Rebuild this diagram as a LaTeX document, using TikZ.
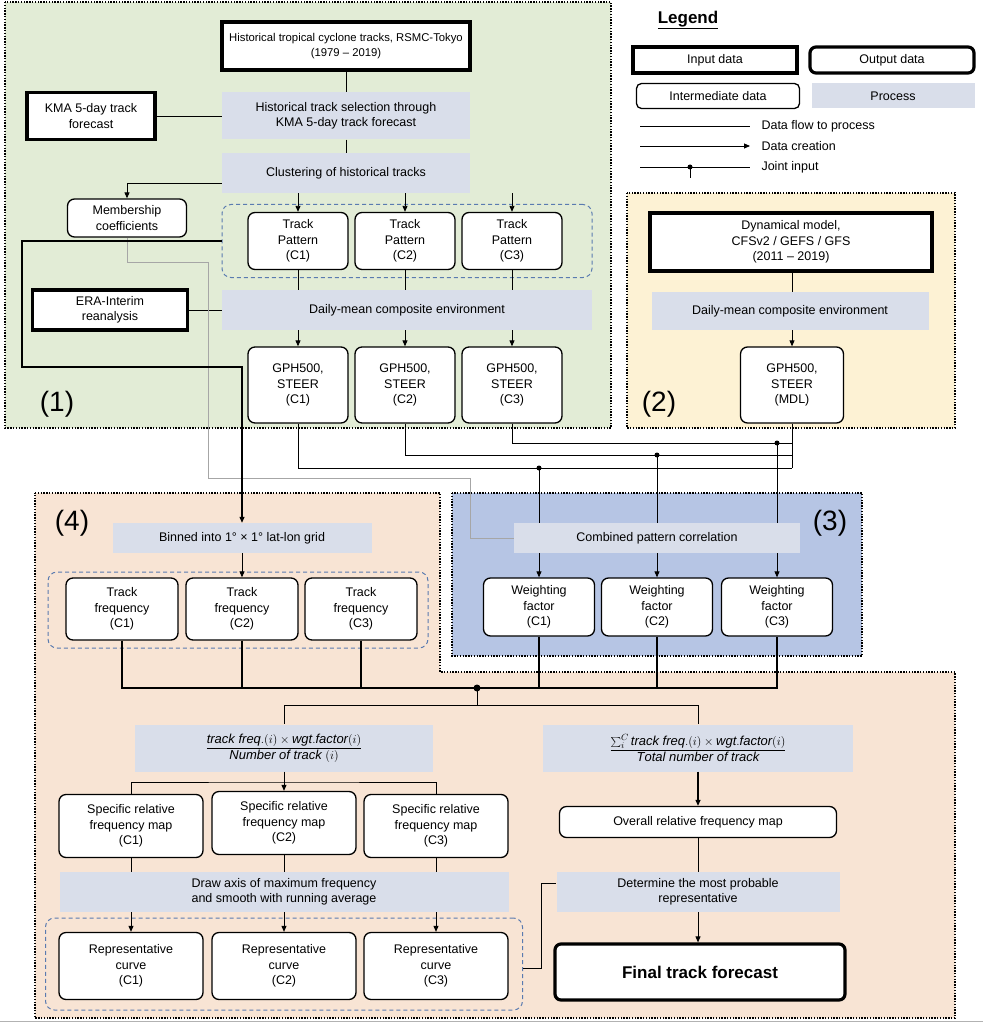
\documentclass[tikz,border=0pt]{standalone}
\usepackage{fontspec}
\setmainfont{Liberation Sans}
\usetikzlibrary{arrows.meta}
\definecolor{gr}{HTML}{E2ECD6}
\definecolor{ye}{HTML}{FDF2D4}
\definecolor{pe}{HTML}{F8E4D4}
\definecolor{bl}{HTML}{B6C5E4}
\definecolor{pr}{HTML}{D9DEEA}
\definecolor{dsh}{HTML}{5A7BB0}
\begin{document}
\begin{tikzpicture}[x=1pt,y=-1pt,
 font=\fontsize{12.5}{15.5}\selectfont,
 inp/.style={draw,line width=3.2pt,align=center,fill=white,inner sep=0pt},
 outp/.style={draw,line width=3.2pt,rounded corners=6pt,align=center,fill=white,inner sep=0pt},
 mid/.style={draw,line width=1.3pt,rounded corners=7pt,align=center,fill=white,inner sep=0pt},
 proc/.style={fill=pr,align=center,inner sep=0pt},
 grp/.style={draw=dsh,line width=1pt,dash pattern=on 4pt off 3pt,rounded corners=9pt,inner sep=0pt},
 reg/.style={draw,line width=2.2pt,dash pattern=on 1.4pt off 1.4pt},
 fl/.style={line width=0.9pt},
 ar/.style={line width=0.9pt,-{Triangle[length=6pt,width=5pt]}},
 jn/.style={line width=0.9pt},
 dot/.style={circle,fill,inner sep=0pt,minimum size=5pt},
 lab/.style={font=\fontsize{28}{30}\selectfont}]
\useasboundingbox (0,0) rectangle (983,1024);
\fill[white] (0,0) rectangle (983,1024);
% regions
\draw[reg,fill=gr] (5,2) rectangle (611,428);
\draw[reg,fill=ye] (627,193) rectangle (955,428);
\draw[reg,fill=pe] (35,493) -- (440,493) -- (440,672) -- (955,672) -- (955,1018) -- (35,1018) -- cycle;
\draw[reg,fill=bl] (452,493) rectangle (862,656);
\draw[gray!60,line width=1pt] (0,1021) -- (983,1021);
\node[lab] at (57,404) {(1)};
\node[lab] at (659,404) {(2)};
\node[lab] at (830,523) {(3)};
\node[lab] at (72,523) {(4)};
% legend
\node[font=\fontsize{17}{19}\selectfont\bfseries] (lg) at (688,20) {\underline{Legend}};
\node[inp,minimum width=164pt,minimum height=26pt] (li) at (715,60) {Input data};
\node[outp,minimum width=164pt,minimum height=26pt] (lo) at (892,60) {Output data};
\node[mid,minimum width=163pt,minimum height=25pt,rounded corners=5pt] (lm) at (718,96) {Intermediate data};
\node[proc,minimum width=163pt,minimum height=25pt] (lp) at (893,96) {Process};
\coordinate (l1a) at (640,126); \coordinate (l1b) at (750,126);
\coordinate (l2a) at (640,146); \coordinate (l2b) at (750,146);
\coordinate (l3a) at (640,167); \coordinate (l3b) at (750,167); \coordinate (l3c) at (690,178);
\draw[fl] (l1a) -- (l1b);
\draw[ar] (l2a) -- (l2b);
\draw[fl] (l3a) -- (l3b); \draw[fl] (690,167) -- (l3c);
\node[dot] (ld) at (690,167) {};
\node[anchor=west] (t1) at (758,126) {Data flow to process};
\node[anchor=west] (t2) at (758,146) {Data creation};
\node[anchor=west] (t3) at (758,167) {Joint input};
% region 1
\node[grp,minimum width=370pt,minimum height=73pt] (d1) at (407,241) {};
\node[inp,minimum width=248pt,minimum height=48pt,font=\fontsize{11.3}{14.5}\selectfont] (in1) at (346,46) {Historical tropical cyclone tracks, RSMC-Tokyo\\(1979 -- 2019)};
\node[inp,minimum width=128pt,minimum height=47pt] (kma) at (91,116) {KMA 5-day track\\forecast};
\node[proc,minimum width=248pt,minimum height=47pt] (sel) at (346,116) {Historical track selection through\\KMA 5-day track forecast};
\node[proc,minimum width=248pt,minimum height=40pt] (clu) at (346,173) {Clustering of historical tracks};
\node[mid,minimum width=119pt,minimum height=38pt] (mem) at (127,218) {Membership\\coefficients};
\foreach \i/\x in {1/298,2/405,3/512}{
 \node[mid,minimum width=100pt,minimum height=57pt] (tp\i) at (\x,241) {Track\\Pattern\\(C\i)};
 \node[mid,minimum width=100pt,minimum height=76pt] (g\i) at (\x,385) {GPH500,\\STEER\\(C\i)};
}
\node[inp,minimum width=155pt,minimum height=40pt] (era) at (110,310) {ERA-Interim\\reanalysis};
\node[proc,minimum width=370pt,minimum height=40pt] (dm1) at (407,310) {Daily-mean composite environment};
\draw[fl] (in1) -- (sel);
\draw[fl] (kma) -- (sel);
\draw[fl] (sel) -- (clu);
\draw[ar] (clu.west |- 0,183) -| (mem.north);
\foreach \i in {1,2,3}{
 \draw[ar] (clu.south -| tp\i) -- (tp\i.north);
 \draw[fl] (tp\i.south) -- (dm1.north -| tp\i);
 \draw[ar] (dm1.south -| g\i) -- (g\i.north);
}
\draw[fl] (era) -- (dm1);
% region 2
\node[inp,minimum width=282pt,minimum height=58pt] (dyn) at (791,242) {Dynamical model,\\CFSv2 / GEFS / GFS\\(2011 -- 2019)};
\node[proc,minimum width=277pt,minimum height=38pt] (dm2) at (790,311) {Daily-mean composite environment};
\node[mid,minimum width=103pt,minimum height=76pt] (gm) at (792,385) {GPH500,\\STEER\\(MDL)};
\draw[fl] (dyn.south -| gm) -- (dm2.north -| gm);
\draw[ar] (dm2.south -| gm) -- (gm.north);
% connections between
\coordinate (j1) at (539,468); \coordinate (j2) at (657,455); \coordinate (j3) at (777,443);
\draw[jn] (g1.south) |- (792,468);
\draw[jn] (g2.south) |- (792,455);
\draw[jn] (g3.south) |- (792,443);
\draw[jn] (gm.south) -- (792,468);
\draw[gray!70,line width=0.7pt] (mem.south) -- (127,262) -- (208,262) -- (208,478) -- (470,478) -- (470,538) -- (514,538);
% region 3
\foreach \i/\x in {1/539,2/657,3/777}{
 \node[mid,minimum width=111pt,minimum height=58pt] (wf\i) at (\x,607) {Weighting\\factor\\(C\i)};
 \draw[ar] (j\i) -- (wf\i.north);
 \node[dot] at (j\i) {};
}
\node[proc,minimum width=286pt,minimum height=30pt] (cpc) at (657,538) {Combined pattern correlation};
% region 4
\node[grp,minimum width=380pt,minimum height=76pt] (d2) at (238,610) {};
\node[proc,minimum width=259pt,minimum height=30pt] (bin) at (242,538) {Binned into 1° × 1° lat-lon grid};
\draw[line width=1.8pt] (d1.west |- 0,241) -- (22,241) -- (22,367) -- (242,367) -- (242,510);
\draw[ar,line width=1.2pt] (242,505) -- (bin.north);
\foreach \i/\x in {1/122,2/242,3/361}{
 \node[mid,minimum width=112pt,minimum height=62pt] (tf\i) at (\x,609) {Track\\frequency\\(C\i)};
}
\draw[ar] (bin.south) -- (tf2.north);
\coordinate (jj) at (477,688);
\draw[line width=1.4pt] (tf1.south) |- (wf3.south |- jj) -- (wf3.south);
\draw[line width=1.4pt] (tf2.south) -- (tf2.south |- jj);
\draw[line width=1.4pt] (tf3.south) -- (tf3.south |- jj);
\draw[line width=1.4pt] (wf1.south) -- (wf1.south |- jj);
\draw[line width=1.4pt] (wf2.south) -- (wf2.south |- jj);
\node[proc,minimum width=298pt,minimum height=47pt,font=\fontsize{13}{15}\selectfont] (fl) at (284,748) {$\displaystyle\frac{\mathit{track\ freq.}(i)\times \mathit{wgt.factor}(i)}{\mathit{Number\ of\ track}\ (i)}$};
\node[proc,minimum width=310pt,minimum height=47pt,font=\fontsize{13}{15}\selectfont] (fr) at (698,748) {$\displaystyle\frac{\textstyle\sum_i^C \mathit{track\ freq.}(i)\times \mathit{wgt.factor}(i)}{\mathit{Total\ number\ of\ track}}$};
\draw[fl] (jj) -- (477,705) -| (fl.north);
\draw[fl] (477,705) -| (fr.north);
\node[dot,minimum size=7pt] at (jj) {};
\node[mid,minimum width=144pt,minimum height=63pt] (sm1) at (131,826) {Specific relative\\frequency map\\(C1)};
\node[mid,minimum width=144pt,minimum height=63pt] (sm2) at (284,823) {Specific relative\\frequency map\\(C2)};
\node[mid,minimum width=144pt,minimum height=63pt] (sm3) at (436,826) {Specific relative\\frequency map\\(C3)};
\draw[ar] (fl.south) -- (sm2.north);
\draw[fl] (sm1.north) |- (284,782) -| (sm3.north);
\node[proc,minimum width=449pt,minimum height=40pt] (ax) at (284,892) {Draw axis of maximum frequency\\and smooth with running average};
\node[grp,minimum width=477pt,minimum height=92pt] (d3) at (284,964) {};
\foreach \i/\x in {1/131,2/284,3/436}{
 \node[mid,minimum width=144pt,minimum height=67pt] (rc\i) at (\x,966) {Representative\\curve\\(C\i)};
 \draw[fl] (sm\i.south) -- (ax.north -| sm\i);
 \draw[ar] (ax.south -| rc\i) -- (rc\i.north);
}
\node[mid,minimum width=277pt,minimum height=31pt] (ov) at (698,822) {Overall relative frequency map};
\node[proc,minimum width=283pt,minimum height=40pt] (det) at (698,892) {Determine the most probable\\representative};
\node[outp,minimum width=290pt,minimum height=56pt,font=\fontsize{17}{19}\selectfont\bfseries] (fin) at (700,972) {Final track forecast};
\draw[ar,line width=1.2pt] (fr.south) -- (ov.north);
\draw[fl] (ov.south) -- (det.north);
\draw[ar] (det.south) -- (fin.north -| det.south);
\draw[line width=0.6pt] (d3.east |- 0,968) -- (541,968) -- (541,883) -- (det.west |- 0,883);
\end{tikzpicture}
\end{document}
